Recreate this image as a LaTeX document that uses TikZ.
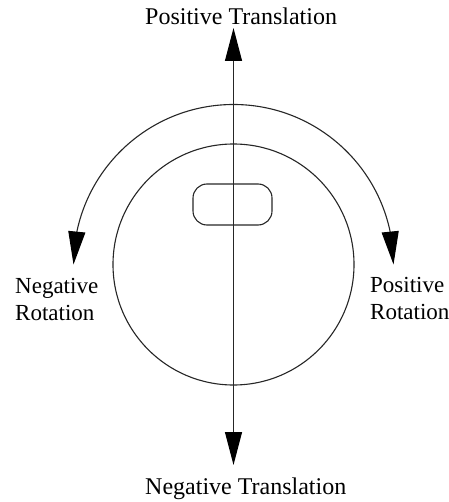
\documentclass[tikz,border=0pt]{standalone}
\usepackage{fontspec}
\setmainfont{Liberation Serif}
\usetikzlibrary{arrows.meta,bending}
\begin{document}
\begin{tikzpicture}[x=1bp,y=-1bp,
  >={Triangle[length=33bp,width=17bp,black]},
  line/.style={line width=1.1bp, draw=black!85},
  lab/.style={inner sep=0pt, anchor=base west, font=\fontsize{23bp}{27bp}\selectfont},
  biglab/.style={lab, font=\fontsize{24bp}{28bp}\selectfont}]
\useasboundingbox (0,0) rectangle (449,502);
\coordinate (c) at (233.5,264.5);
\coordinate (top) at (233.5,28);
\coordinate (bot) at (233.5,465);
\coordinate (arcL) at (73.5,264.5);
% disc
\node[line, circle, draw, minimum size=241bp, inner sep=0pt] (disc) at (c) {};
% slot
\node[line, draw, rounded corners=14bp, minimum width=79bp, minimum height=41bp, inner sep=0pt] (slot) at (232.5,204.5) {};
% translation axis
\draw[line, <->] (bot) -- (top);
% rotation arc
\draw[line, <->] (arcL) arc[start angle=180, end angle=0, radius=160bp];
% labels
\node[biglab] (pt) at (145,25) {Positive Translation};
\node[biglab] (nt) at (145,494) {Negative Translation};
\node[lab] (nr1) at (15,293) {Negative};
\node[lab] (nr2) at (15,320) {Rotation};
\node[lab] (pr1) at (370,292) {Positive};
\node[lab] (pr2) at (370,319) {Rotation};
\end{tikzpicture}
\end{document}
